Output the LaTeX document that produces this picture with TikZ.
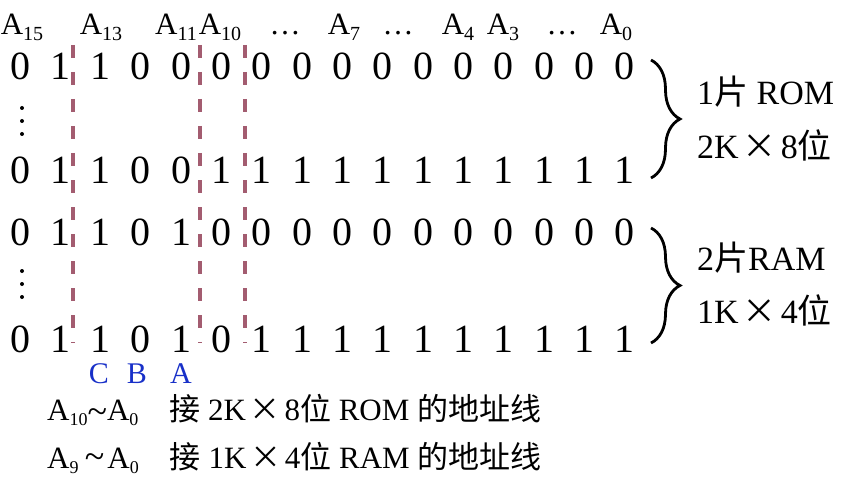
\documentclass[tikz,border=0pt]{standalone}
\usepackage{fontspec}
\setmainfont{Liberation Serif}
\newfontfamily\cjk{Noto Sans CJK SC}
\usetikzlibrary{decorations.pathreplacing}
\definecolor{cutmauve}{RGB}{163,92,112}
\definecolor{selblue}{RGB}{24,48,200}
\newcommand{\addr}[2][20]{A\raisebox{-0.18em}{\fontsize{#1}{#1}\selectfont #2}}
\newcommand{\by}{\hspace{0.12em}{\cjk ×}\hspace{0.12em}}

\begin{document}
\begin{tikzpicture}[x=1pt, y=-1pt,
    bit/.style={anchor=base, inner sep=0pt, font=\fontsize{40}{42}\selectfont},
    head/.style={anchor=base, inner sep=0pt, font=\fontsize{31}{33}\selectfont},
    memlabel/.style={anchor=base west, inner sep=0pt, font=\fontsize{34}{36}\selectfont},
    sel/.style={anchor=base, inner sep=0pt, text=selblue, font=\fontsize{30}{32}\selectfont},
    note/.style={anchor=base west, inner sep=0pt, font=\fontsize{31}{33}\selectfont},
    cutline/.style={cutmauve, line width=3.2pt, dash pattern=on 13pt off 14pt},
    memrange/.style={decorate, decoration={brace, amplitude=29pt}, line width=2.8pt}]
    \useasboundingbox (0,0) rectangle (846,484);

    % Address line names
    \foreach \lab/\x [count=\k] in {{\addr{15}}/22, {\addr{13}}/101, {\addr{11}}/176,
        {\addr{10}}/220, {…}/285, {\addr{7}}/344, {…}/398, {\addr{4}}/458,
        {\addr{3}}/503, {…}/562, {\addr{0}}/616}
        \node[head] (hd\k) at (\x,35) {\lab};

    % Address bits
    \foreach \yb/\bits [count=\r] in {80/{0,1,1,0,0,0,0,0,0,0,0,0,0,0,0,0},
        183/{0,1,1,0,0,1,1,1,1,1,1,1,1,1,1,1},
        245/{0,1,1,0,1,0,0,0,0,0,0,0,0,0,0,0},
        352/{0,1,1,0,1,0,1,1,1,1,1,1,1,1,1,1}}
        \foreach \b [count=\i from 0] in \bits
            \node[bit] (b\r-\i) at (20+40.33*\i,\yb) {\b};

    % Vertical dots
    \foreach \yy in {108,121,134,271,284,297}
        \fill (22,\yy) circle (2pt);

    % Field borders
    \draw[cutline] (73,45) -- (73,343);
    \draw[cutline] (200,45) -- (200,343);
    \draw[cutline] (245,45) -- (245,343);

    % Chip select inputs
    \node[sel] (selC) at (99,383) {C};
    \node[sel] (selB) at (137,383) {B};
    \node[sel] (selA) at (181,383) {A};

    % Memory ranges
    \draw[memrange] (651,60) -- (651,178);
    \draw[memrange] (651,228) -- (651,343);
    \node[memlabel] (rom1) at (697,105) {1{\cjk 片} ROM};
    \node[memlabel] (rom2) at (697,158) {2K\by 8{\cjk 位}};
    \node[memlabel] (ram1) at (697,270) {2{\cjk 片}RAM};
    \node[memlabel] (ram2) at (697,323) {1K\by 4{\cjk 位}};

    % Address line usage
    \node[note] (use1) at (47,420) {\addr[18]{10}\raisebox{-0.12em}{\fontsize{36}{36}\selectfont\char"7E}\addr[18]{0}\hspace{1em}{\cjk 接} 2K\by 8{\cjk 位} ROM {\cjk 的地址线}};
    \node[note] (use2) at (47,468) {\addr[18]{9}\hspace{0.2em}{\fontsize{36}{36}\selectfont\char"7E}\hspace{0.1em}\addr[18]{0}\hspace{1em}{\cjk 接} 1K\by 4{\cjk 位} RAM {\cjk 的地址线}};
\end{tikzpicture}
\end{document}
